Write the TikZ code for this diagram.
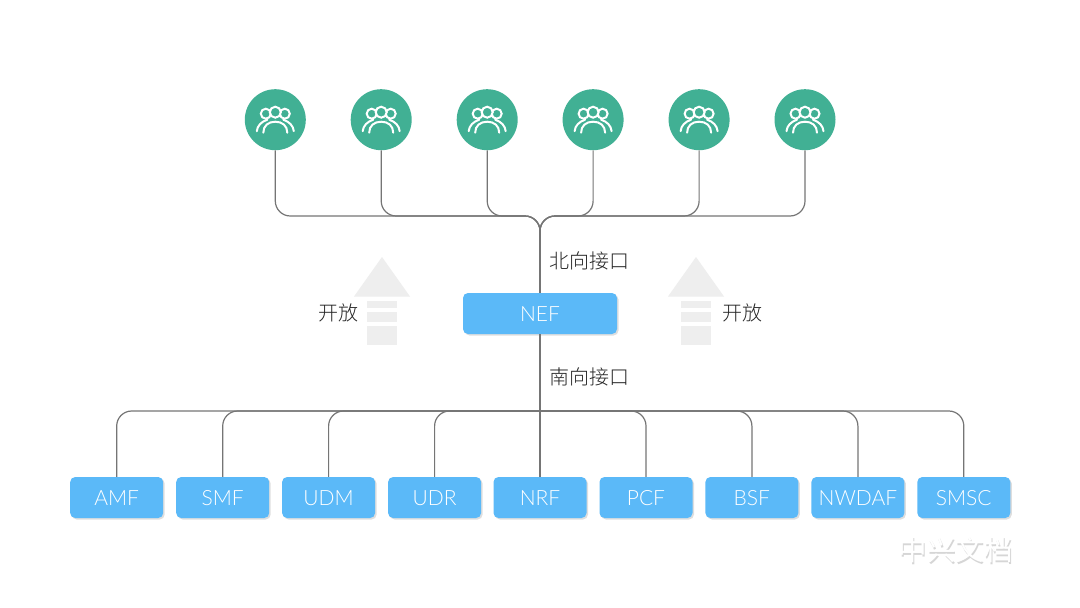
\documentclass[tikz,border=0pt]{standalone}
\usepackage{fontspec}
\setmainfont{Lato Light}
\newfontfamily\cjk{Noto Sans CJK SC Light}
\newfontfamily\cjkmark{Noto Sans CJK SC}
\usetikzlibrary{shadows}
\definecolor{boxblue}{HTML}{5BB9F8}
\definecolor{usergreen}{HTML}{41B094}
\definecolor{linegray}{HTML}{757575}
\definecolor{arrowgray}{HTML}{EEEEEE}
\tikzset{
  nf/.style = {fill=boxblue, text=white, rounded corners=5pt, minimum height=41pt, inner sep=0pt,
    text height=16.5pt, text depth=0pt, font=\fontsize{21}{24}\selectfont,
    drop shadow={shadow xshift=1.5pt, shadow yshift=-1.5pt, fill=black, opacity=0.13}},
  user/.style = {circle, fill=usergreen, minimum size=61pt, inner sep=0pt},
  link/.style = {draw=linegray, line width=1.2pt, rounded corners=15pt},
  label/.style = {text=black!85, font=\cjk\fontsize{20}{24}\selectfont, inner sep=0pt},
  pics/usergroup/.style = {code = {
    \draw [white, line width=2pt] (-9.5, -6) circle (5);
    \draw [white, line width=2pt] (9.5, -6) circle (5);
    \draw [white, line width=2pt, fill=usergreen] (0, -7.5) circle (5.5);
    \draw [white, line width=2pt, line cap=round] (-12, 13) .. controls (-12, 6) and (-7, 2) .. (0, 2) .. controls (7, 2) and (12, 6) .. (12, 13);
    \draw [white, line width=2pt, line cap=round] (-18.5, 11.5) .. controls (-18, 6) and (-14, 2) .. (-8, 0);
    \draw [white, line width=2pt, line cap=round] (18.5, 11.5) .. controls (18, 6) and (14, 2) .. (8, 0);
  }},
  pics/openarrow/.style = {code = {
    \fill [arrowgray] (0, -56) -- (28, -16.5) -- (-28, -16.5) -- cycle;
    \fill [arrowgray] (-15, -12) rectangle (15, -5);
    \fill [arrowgray] (-15, -1) rectangle (15, 9);
    \fill [arrowgray] (-15, 13) rectangle (15, 32);
  }}
}
\begin{document}
\begin{tikzpicture}[x=1pt, y=-1pt]
  \useasboundingbox [fill=white] (0, 0) rectangle (1080, 608);

  % users
  \foreach \i/\x in {1/275.3, 2/381.2, 3/487.2, 4/593.1, 5/699.1, 6/805} {
    \node [user] (user\i) at (\x, 119.7) {};
    \pic at (user\i) {usergroup};
  }

  % functions
  \node [nf, minimum width=154pt] (NEF) at (540, 313.5) {NEF};
  \foreach \name/\x in {AMF/116.7, SMF/222.7, UDM/328.6, UDR/434.6, NRF/540, PCF/646, BSF/751.9, NWDAF/857.9, SMSC/963.8} {
    \node [nf, minimum width=93pt] (\name) at (\x, 497.5) {\name};
  }

  % north side
  \coordinate (northbus) at (540, 216);
  \coordinate (northend) at (540, 232);
  \foreach \i in {1, ..., 6} {
    \draw [link] (user\i.south) |- (northbus) -- (northend);
  }
  \draw [link] (northend) -- (NEF.north);

  % south side
  \coordinate (southbus) at (540, 411);
  \draw [link] (NEF.south) -- (NRF.north);
  \foreach \name in {AMF, SMF, UDM, UDR, PCF, BSF, NWDAF, SMSC} {
    \draw [link] (southbus) -| (\name.north);
  }

  % arrows
  \pic at (382, 313) {openarrow};
  \pic at (696, 313) {openarrow};

  % labels
  \node [label] (northlabel) at (589, 261) {北向接口};
  \node [label] (southlabel) at (589, 377) {南向接口};
  \node [label] (openleft) at (338, 313) {开放};
  \node [label] (openright) at (742, 313) {开放};

  \node [text=black!16, font=\cjkmark\fontsize{28.5}{32}\selectfont, inner sep=0pt] (markshadow) at (956.5, 551.5) {中兴文档};
  \node [text=white, font=\cjkmark\fontsize{28.5}{32}\selectfont, inner sep=0pt] (mark) at (955.5, 550) {中兴文档};
\end{tikzpicture}
\end{document}
